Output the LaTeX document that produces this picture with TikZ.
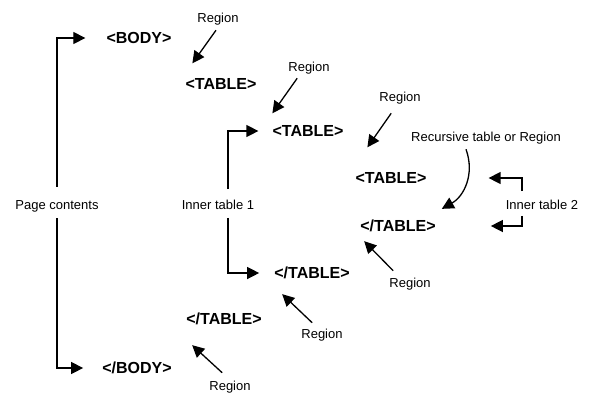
\documentclass[tikz,border=0pt]{standalone}
\usepackage{fontspec}
\setmainfont{Liberation Sans}
\usetikzlibrary{arrows.meta}
\begin{document}
\begin{tikzpicture}[x=1bp,y=-1bp,
  tag/.style={font=\fontsize{16bp}{18bp}\selectfont\bfseries, inner sep=0pt},
  lbl/.style={font=\fontsize{13bp}{15bp}\selectfont, inner sep=0pt},
  conn/.style={line width=1.3bp, -{Triangle[length=12bp,width=12bp]}},
  ]
\useasboundingbox (0,0) rectangle (592,397);
% tags
\node[tag] (body)  at (139,38)  {<BODY>};
\node[tag] (t1)    at (221,84)  {<TABLE>};
\node[tag] (t2)    at (308,131) {<TABLE>};
\node[tag] (t3)    at (391,178) {<TABLE>};
\node[tag] (et3)   at (398,226) {</TABLE>};
\node[tag] (et2)   at (312,273) {</TABLE>};
\node[tag] (et1)   at (224,319) {</TABLE>};
\node[tag] (ebody) at (137,368) {</BODY>};
% labels
\node[lbl] (r1) at (218,19)  {Region};
\node[lbl] (r2) at (309,68)  {Region};
\node[lbl] (r3) at (400,98)  {Region};
\node[lbl] (rec) at (486,138) {Recursive table or Region};
\node[lbl] (r5) at (410,284) {Region};
\node[lbl] (r6) at (322,335) {Region};
\node[lbl] (r7) at (230,387) {Region};
\node[lbl] (pc)  at (57,206)  {Page contents};
\node[lbl] (it1) at (218,205) {Inner table 1};
\node[lbl] (it2) at (542,205) {Inner table 2};
% brackets
\draw[conn] ([yshift=13bp]pc.north) |- ([xshift=-21bp]body.west);
\draw[conn] ([yshift=-6bp]pc.south) |- ([xshift=-19bp]ebody.west);
\draw[conn] ([shift={(10,-11)}]it1.north) |- ([xshift=-14bp]t2.west);
\draw[conn] ([shift={(10,8)}]it1.south) |- ([xshift=-15bp]et2.west);
\draw[conn] ([shift={(-20,-9)}]it2.north) |- ([xshift=62bp]t3.east);
\draw[conn] ([shift={(-20,6)}]it2.south) |- ([xshift=55bp]et3.east);
% region arrows
\draw[conn] ([shift={(-2,5)}]r1.south) -- ([shift={(7,-15)}]t1.north west);
\draw[conn] ([shift={(9,4)}]r2.south west) -- ([shift={(0,-12)}]t2.north west);
\draw[conn] ([shift={(12,9)}]r3.south west) -- ([shift={(12,-25)}]t3.north west);
\draw[conn] ([shift={(4,-7)}]r5.north west) -- ([shift={(4,9)}]et3.south west);
\draw[conn] ([shift={(11,-6)}]r6.north west) -- ([shift={(8,15)}]et2.south west);
\draw[conn] ([shift={(13,-8)}]r7.north west) -- ([shift={(6,20)}]et1.south west);
% recursive curve
\draw[conn] ([shift={(-20,5)}]rec.south) .. controls ([shift={(-11,30)}]rec.south) and ([shift={(-22,52)}]rec.south) .. ([shift={(6,-11)}]et3.north east);
\end{tikzpicture}
\end{document}
